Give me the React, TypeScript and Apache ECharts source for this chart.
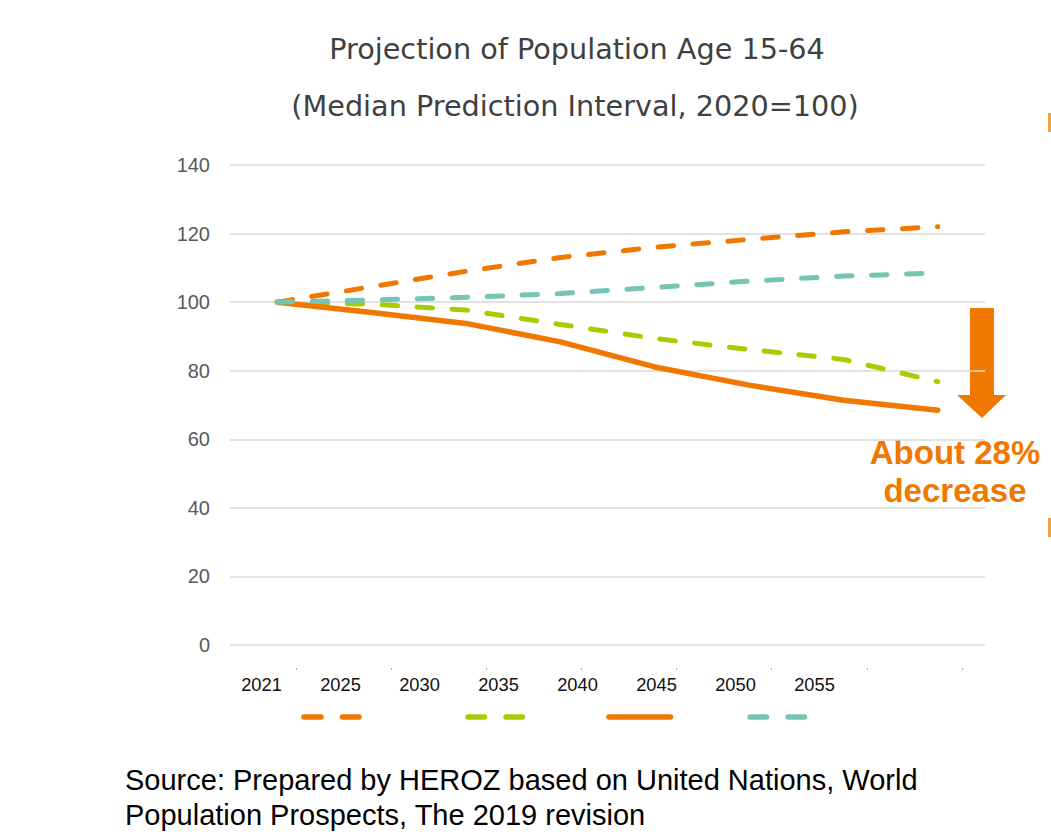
import React, { useEffect, useRef } from 'react';
import * as echarts from 'echarts';

// ---- data ----
const years = ['2021', '2025', '2030', '2035', '2040', '2045', '2050', '2055'];
const highVariant = [100, 104.5, 109, 113, 116, 118.3, 120.5, 122];
const lowVariant = [100, 99.4, 97.7, 93.5, 89.4, 86.2, 83.3, 76.8];
const medianVariant = [100, 97, 93.8, 88.4, 81.1, 75.8, 71.4, 68.5];
const constantVariant = [100, 100.6, 101.4, 102.5, 104.3, 106.1, 107.6, 108.5];
const yMin = 0;
const yMax = 140;
const yStep = 20;
const titleLines = ['Projection of Population Age 15-64', '(Median Prediction Interval, 2020=100)'];
const noteLines = ['About 28%', 'decrease'];
const sourceLines = [
  'Source: Prepared by HEROZ based on United Nations, World',
  'Population Prospects, The 2019 revision',
];

const ORANGE = '#F07800';
const GREEN = '#A8CC00';
const TEAL = '#76C4B4';

export default function App() {
  const ref = useRef<HTMLDivElement>(null);
  useEffect(() => {
    document.body.style.margin = '0';
    const chart = echarts.init(ref.current!, null, { renderer: 'svg' });
    const dashed = (color: string) => ({
      color,
      width: 5,
      type: [15.5, 19.5] as any,
      cap: 'round' as const,
    });
    const series: any[] = [
      { name: 'High variant', data: highVariant, color: ORANGE, lineStyle: dashed(ORANGE) },
      { name: 'Low variant', data: lowVariant, color: GREEN, lineStyle: dashed(GREEN) },
      { name: 'Median', data: medianVariant, color: ORANGE, lineStyle: { color: ORANGE, width: 5.5, type: 'solid', cap: 'round' } },
      { name: 'Constant fertility', data: constantVariant, color: TEAL, lineStyle: dashed(TEAL) },
    ].map((s) => ({
      ...s,
      type: 'line',
      xAxisIndex: 0,
      yAxisIndex: 0,
      symbol: 'none',
      showSymbol: false,
      smooth: false,
    }));

    // legend keys (no text in the original), drawn as line samples
    const legendKeys = [
      { x1: 304, x2: 359, color: ORANGE, dash: [17, 21.5] },
      { x1: 468, x2: 522.5, color: GREEN, dash: [16.5, 21.5] },
      { x1: 609, x2: 670.5, color: ORANGE, dash: null },
      { x1: 750, x2: 805.5, color: TEAL, dash: [16.5, 21.5] },
    ];

    const textStyle = (t: string, x: number, y: number, extra: any) => ({
      type: 'text',
      x,
      y,
      style: { text: t, verticalAlign: 'middle', ...extra },
    });

    chart.setOption({
      animation: false,
      backgroundColor: '#ffffff',
      title: [
        {
          text: titleLines[0],
          left: 572,
          top: 29,
          textAlign: 'center',
          textStyle: { fontFamily: 'DejaVu Sans', fontSize: 28.7, fontWeight: 'normal', color: '#404040' },
        },
        {
          text: titleLines[1],
          left: 570,
          top: 86,
          textAlign: 'center',
          textStyle: { fontFamily: 'DejaVu Sans', fontSize: 28.7, fontWeight: 'normal', color: '#404040' },
        },
      ],
      grid: [
        { left: 230, right: 66, top: 165, bottom: 187 },
        { left: 222, right: 197, top: 165, bottom: 187 },
        { left: 296, right: 89, top: 165, bottom: 164 },
      ],
      xAxis: [
        {
          type: 'category',
          gridIndex: 0,
          data: years,
          boundaryGap: true,
          axisLine: { show: false },
          axisTick: { show: false },
          axisLabel: { show: false },
        },
        {
          type: 'category',
          gridIndex: 1,
          data: years,
          boundaryGap: true,
          axisLine: { show: false },
          axisTick: { show: false },
          axisLabel: {
            margin: 30,
            fontFamily: 'Liberation Sans',
            fontSize: 18.3,
            color: '#111111',
          },
        },
        {
          type: 'value',
          gridIndex: 2,
          min: 0,
          max: 7,
          interval: 1,
          axisLine: { show: false },
          axisTick: { show: true, length: 2, lineStyle: { color: '#A6A6A6', width: 1 } },
          axisLabel: { show: false },
          splitLine: { show: false },
        },
      ],
      yAxis: [
        {
          type: 'value',
          gridIndex: 0,
          min: yMin,
          max: yMax,
          interval: yStep,
          axisLine: { show: false },
          axisTick: { show: false },
          axisLabel: {
            margin: 20,
            fontFamily: 'Liberation Sans',
            fontSize: 20,
            color: '#595959',
          },
          splitLine: { lineStyle: { color: '#D9D9D9', width: 1.5 } },
        },
        { type: 'value', gridIndex: 1, show: false, min: 0, max: 1 },
        { type: 'value', gridIndex: 2, show: false, min: 0, max: 1 },
      ],
      graphic: [
        ...legendKeys.map((k) => ({
          type: 'line',
          shape: { x1: k.x1, y1: 717, x2: k.x2, y2: 717 },
          style: {
            stroke: k.color,
            lineWidth: 5.5,
            lineCap: 'round',
            lineDash: k.dash || undefined,
          },
        })),
        {
          type: 'polygon',
          shape: {
            points: [
              [970, 308], [994, 308], [994, 395], [1006, 395], [982, 418], [957, 395], [970, 395],
            ],
          },
          style: { fill: ORANGE },
        },
        textStyle(noteLines[0], 955, 452, {
          fill: ORANGE, fontFamily: 'Liberation Sans', fontWeight: 'bold', fontSize: 33, align: 'center',
        }),
        textStyle(noteLines[1], 955, 490, {
          fill: ORANGE, fontFamily: 'Liberation Sans', fontWeight: 'bold', fontSize: 33, align: 'center',
        }),
        { type: 'rect', shape: { x: 1048, y: 113, width: 3, height: 19 }, style: { fill: '#F2A33A' } },
        { type: 'rect', shape: { x: 1048, y: 518, width: 3, height: 19 }, style: { fill: '#F2A33A' } },
        textStyle(sourceLines[0], 125, 780, {
          fill: '#000000', fontFamily: 'Liberation Sans', fontSize: 29, align: 'left',
        }),
        textStyle(sourceLines[1], 125, 815, {
          fill: '#000000', fontFamily: 'Liberation Sans', fontSize: 29, align: 'left',
        }),
      ],
      series,
    });
    return () => chart.dispose();
  }, []);
  return <div ref={ref} style={{ width: 1051, height: 832 }} />;
}
